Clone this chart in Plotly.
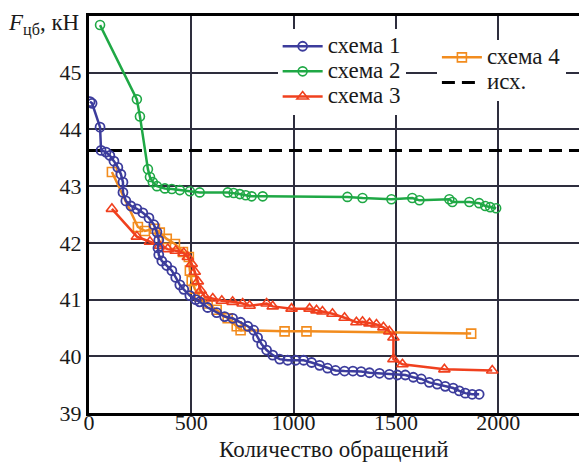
import plotly.graph_objects as go

# ---- data ----
s1_x = [5, 15, 54, 59, 83, 102, 122, 141, 156, 166, 166, 180, 205, 234, 263, 293, 317, 332, 341, 337,
        341, 356, 380, 405, 424, 444, 463, 493, 522, 541, 580, 624, 663, 702, 741, 776, 805, 824, 844,
        868, 898, 932, 971, 1010, 1049, 1088, 1127, 1166, 1205, 1249, 1290, 1330, 1371, 1420, 1468,
        1507, 1546, 1585, 1624, 1663, 1702, 1741, 1780, 1810, 1839, 1873, 1907]
s1_y = [44.49, 44.46, 44.04, 43.63, 43.60, 43.54, 43.44, 43.33, 43.21, 43.07, 42.89, 42.74, 42.65, 42.60,
        42.53, 42.44, 42.32, 42.19, 42.05, 41.91, 41.79, 41.68, 41.60, 41.51, 41.39, 41.26, 41.18, 41.07,
        41.00, 40.96, 40.86, 40.77, 40.70, 40.67, 40.60, 40.53, 40.46, 40.33, 40.21, 40.11, 40.02, 39.95,
        39.93, 39.93, 39.93, 39.89, 39.84, 39.79, 39.75, 39.74, 39.74, 39.73, 39.71, 39.70, 39.68, 39.67,
        39.67, 39.63, 39.60, 39.54, 39.51, 39.47, 39.44, 39.39, 39.35, 39.33, 39.33]

s2_x = [54, 234, 249, 288, 298, 312, 332, 371, 405, 444, 493, 541, 678, 707, 737, 766, 795, 849, 1263,
        1337, 1478, 1580, 1615, 1761, 1776, 1859, 1907, 1937, 1961, 1990]
s2_y = [45.84, 44.53, 44.23, 43.30, 43.16, 43.07, 43.00, 42.96, 42.95, 42.93, 42.91, 42.89, 42.89, 42.88,
        42.86, 42.84, 42.82, 42.82, 42.81, 42.79, 42.77, 42.79, 42.75, 42.77, 42.72, 42.72, 42.70, 42.65,
        42.63, 42.61]

s3_x = [112, 234, 298, 346, 385, 424, 463, 483, 502, 517, 532, 546, 566, 605, 649, 702, 751, 785, 868,
        898, 990, 1078, 1112, 1141, 1190, 1249, 1307, 1337, 1371, 1405, 1439, 1468, 1488, 1488, 1532,
        1737, 1971]
s3_y = [42.60, 42.11, 42.02, 41.95, 41.89, 41.86, 41.82, 41.75, 41.63, 41.49, 41.32, 41.16, 41.05, 41.02,
        40.98, 40.96, 40.93, 40.89, 40.93, 40.88, 40.84, 40.84, 40.81, 40.79, 40.75, 40.68, 40.60, 40.61,
        40.58, 40.56, 40.51, 40.44, 40.33, 39.95, 39.86, 39.77, 39.75]

s4_x = [112, 239, 273, 322, 346, 380, 420, 459, 488, 493, 502, 517, 541, 580, 624, 678, 722, 741, 956,
        1063, 1868]
s4_y = [43.25, 42.28, 42.21, 42.25, 42.18, 42.07, 41.98, 41.84, 41.75, 41.51, 41.33, 41.19, 41.05, 40.93,
        40.82, 40.67, 40.53, 40.46, 40.44, 40.44, 40.40]

base_x = [0, 2400]
base_y = [43.63, 43.63]

x_ticks = [0, 500, 1000, 1500, 2000]
y_ticks = [39, 40, 41, 42, 43, 44, 45]

names = ["схема 1", "схема 2", "схема 3", "схема 4", "исх."]

# ---- styling ----
FONT = "Liberation Serif"
C1, C2, C3, C4 = "#3c3c9c", "#1fa845", "#f0401e", "#f28c1e"
GRID = "#2e2e3e"
TXT = "#1a1a1a"


def nm(t):
    return '<span style="font-size:23px">' + t + '</span>'


fig = go.Figure()
fig.add_trace(go.Scatter(x=base_x, y=base_y, mode="lines", name=nm(names[4]),
                         line=dict(color="black", width=3, dash="13px,7px"),
                         legend="legend2", legendrank=2))
fig.add_trace(go.Scatter(x=s2_x, y=s2_y, mode="lines+markers", name=nm(names[1]),
                         line=dict(color=C2, width=2.5),
                         marker=dict(symbol="circle-open", size=9, color=C2, line=dict(width=1.6)),
                         legend="legend", legendrank=2))
fig.add_trace(go.Scatter(x=s4_x, y=s4_y, mode="lines+markers", name=nm(names[3]),
                         line=dict(color=C4, width=2.5),
                         marker=dict(symbol="square-open", size=9, color=C4, line=dict(width=1.6)),
                         legend="legend2", legendrank=1))
fig.add_trace(go.Scatter(x=s3_x, y=s3_y, mode="lines+markers", name=nm(names[2]),
                         line=dict(color=C3, width=2.5),
                         marker=dict(symbol="triangle-up-open", size=10, color=C3, line=dict(width=1.6)),
                         legend="legend", legendrank=3))
fig.add_trace(go.Scatter(x=s1_x, y=s1_y, mode="lines+markers", name=nm(names[0]),
                         line=dict(color=C1, width=2.5),
                         marker=dict(symbol="circle-open", size=9, color=C1, line=dict(width=1.8)),
                         legend="legend", legendrank=1))

fig.update_layout(
    width=579, height=464,
    margin=dict(l=89, r=0, t=16, b=51),
    paper_bgcolor="white", plot_bgcolor="white",
    font=dict(family=FONT, size=23, color=TXT),
    showlegend=True,
    legend=dict(x=0.385, y=0.968, xanchor="left", yanchor="top", bgcolor="white",
                font=dict(family=FONT, size=17, color=TXT), traceorder="normal",
                itemwidth=40, tracegroupgap=0),
    legend2=dict(x=0.71, y=0.94, xanchor="left", yanchor="top", bgcolor="white",
                 font=dict(family=FONT, size=17, color=TXT), traceorder="normal",
                 itemwidth=40, tracegroupgap=0),
    xaxis=dict(range=[0, 2395], tickvals=x_ticks, ticktext=[str(v) for v in x_ticks],
               showgrid=True, gridcolor=GRID, gridwidth=1.5,
               showline=True, linecolor="black", linewidth=3, mirror=True,
               ticks="", zeroline=False, ticklabelstandoff=-12,
               tickfont=dict(family=FONT, size=22, color=TXT)),
    yaxis=dict(range=[39, 46], tickvals=y_ticks, ticktext=[str(v) for v in y_ticks],
               showgrid=True, gridcolor=GRID, gridwidth=1.5,
               showline=True, linecolor="black", linewidth=3, mirror=False,
               ticks="", zeroline=False,
               tickfont=dict(family=FONT, size=22, color=TXT)),
    annotations=[
        dict(text="<i>F</i><sub>цб</sub>, кН", xref="paper", yref="paper", x=0, y=1,
             xanchor="right", yanchor="middle", xshift=-8, yshift=-8, showarrow=False,
             font=dict(family=FONT, size=23, color=TXT)),
        dict(text="Количество обращений", xref="paper", yref="paper", x=0.5, y=0,
             xanchor="center", yanchor="top", yshift=-22, showarrow=False,
             font=dict(family=FONT, size=23, color=TXT)),
    ],
)

fig.write_html("out.html")
